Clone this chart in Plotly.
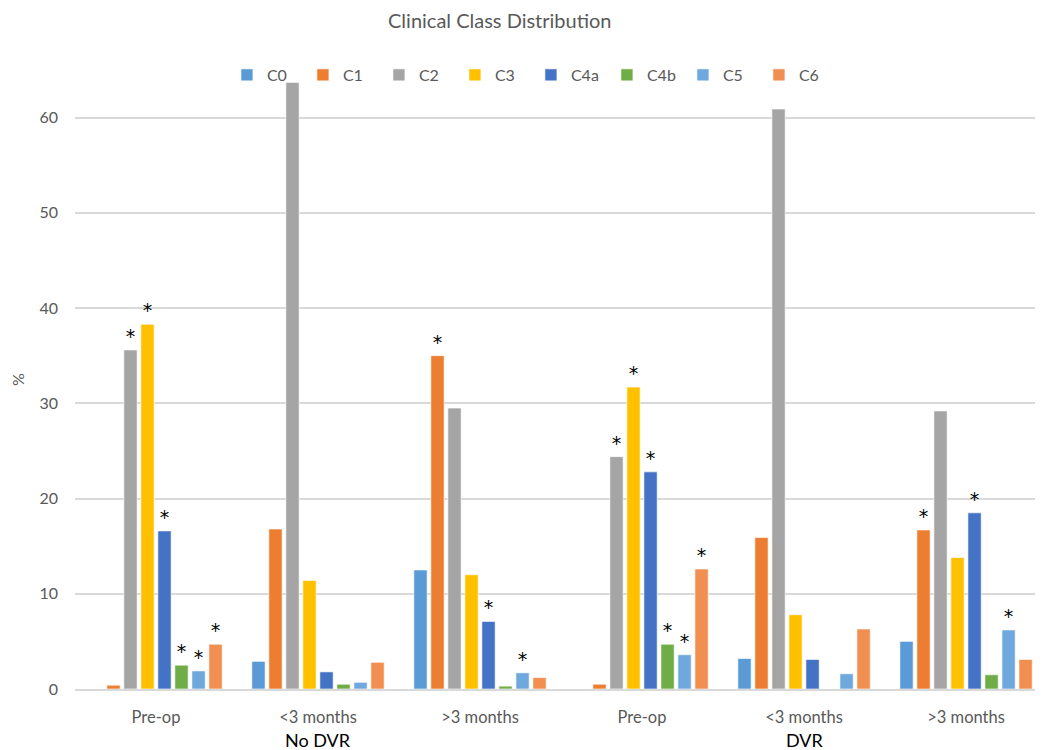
import plotly.graph_objects as go

# ---- data ----
timepoints = ["Pre-op", "<3 months", ">3 months", "Pre-op", "<3 months", ">3 months"]
groups = ["No DVR", "DVR"]
classes = ["C0", "C1", "C2", "C3", "C4a", "C4b", "C5", "C6"]

C0 = [0.0, 2.9, 12.5, 0.0, 3.2, 5.0]
C1 = [0.4, 16.8, 35.0, 0.5, 15.9, 16.7]
C2 = [35.6, 63.7, 29.5, 24.4, 60.9, 29.2]
C3 = [38.3, 11.4, 12.0, 31.7, 7.8, 13.8]
C4a = [16.6, 1.8, 7.1, 22.8, 3.1, 18.5]
C4b = [2.5, 0.5, 0.3, 4.7, 0.0, 1.5]
C5 = [1.9, 0.7, 1.7, 3.6, 1.6, 6.2]
C6 = [4.7, 2.8, 1.2, 12.6, 6.3, 3.1]

# significance markers (1 = asterisk)
sig_C0 = [0, 0, 0, 0, 0, 0]
sig_C1 = [0, 0, 1, 0, 0, 1]
sig_C2 = [1, 0, 0, 1, 0, 0]
sig_C3 = [1, 0, 0, 1, 0, 0]
sig_C4a = [1, 0, 1, 1, 0, 1]
sig_C4b = [1, 0, 0, 1, 0, 0]
sig_C5 = [1, 0, 1, 1, 0, 1]
sig_C6 = [1, 0, 0, 1, 0, 0]

yticks = [0, 10, 20, 30, 40, 50, 60]

series = [C0, C1, C2, C3, C4a, C4b, C5, C6]
sigs = [sig_C0, sig_C1, sig_C2, sig_C3, sig_C4a, sig_C4b, sig_C5, sig_C6]
colors = ["#5B9BD5", "#ED7D31", "#A5A5A5", "#FFC000", "#4472C4", "#70AD47", "#6FA8DC", "#F08F4F"]

FONT = "Lato, 'Open Sans', sans-serif"
GREY = "#595959"

xpos = list(range(len(timepoints)))

fig = go.Figure()
for name, vals, sig, col in zip(classes, series, sigs, colors):
    fig.add_trace(go.Bar(
        name=name, x=xpos, y=vals,
        marker=dict(color=col, line=dict(color="rgba(255,255,255,0.6)", width=1)),
        text=["*" if s else "" for s in sig],
        textposition="outside",
        textfont=dict(color="black", size=19, family="DejaVu Sans"),
        constraintext="none",
        cliponaxis=False,
        hoverinfo="y+name",
    ))

# page body has an 8px margin; figure sized to fit the 1043x750 window
fig.update_layout(
    width=1035, height=742,
    barmode="group", bargap=0.16, bargroupgap=0.22,
    plot_bgcolor="white", paper_bgcolor="white",
    margin=dict(l=67, r=0, t=62, b=61, autoexpand=False),
    legend=dict(orientation="h", x=0.471, xanchor="center", y=0.992, yanchor="middle",
                yref="paper", font=dict(family=FONT, size=16, color=GREY),
                entrywidth=31, entrywidthmode="pixels", bgcolor="rgba(0,0,0,0)",
                itemwidth=30),
    font=dict(family=FONT, color=GREY),
    showlegend=True,
)

# chart title
fig.add_annotation(text="Clinical Class Distribution", xref="paper", x=0.439,
                   xanchor="center", yref="paper", y=1, yanchor="middle", yshift=50,
                   showarrow=False, font=dict(family=FONT, size=20, color=GREY))

fig.update_xaxes(
    tickvals=xpos, ticktext=timepoints, range=[-0.5, 5.475],
    showgrid=False, showline=True, linecolor="#D9D9D9", linewidth=1.5,
    ticks="", tickfont=dict(family=FONT, size=16.5, color=GREY),
    ticklabelstandoff=12,
)
fig.update_yaxes(
    range=[0, 65], tickvals=yticks, showgrid=True, gridcolor="#D9D9D9", gridwidth=1.5,
    zeroline=False, showline=False, ticks="",
    tickfont=dict(family=FONT, size=16, color=GREY),
    ticklabelstandoff=16,
    title=dict(text="%", font=dict(family=FONT, size=16, color=GREY), standoff=18),
)

for gi, g in enumerate(groups):
    fig.add_annotation(text=g, x=1 + 3 * gi, xref="x", y=0, yref="paper",
                       yanchor="top", yshift=-38, showarrow=False,
                       font=dict(family=FONT, size=18, color="black"))

fig.write_html("out.html")
